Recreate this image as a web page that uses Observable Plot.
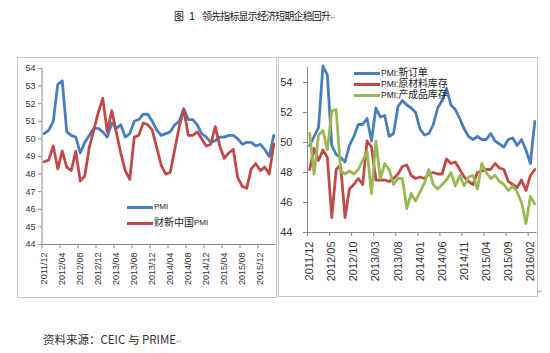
<!DOCTYPE html>
<html><head><meta charset="utf-8">
<script src="https://cdn.jsdelivr.net/npm/d3@7"></script>
<script src="https://cdn.jsdelivr.net/npm/@observablehq/plot@0.6"></script>
<style>
html,body{margin:0;padding:0;background:#fff;}
#page{position:relative;width:550px;height:353px;overflow:hidden;font-family:"Liberation Sans",Arial,sans-serif;color:#333;}
.abs{position:absolute;white-space:nowrap;}
.box{position:absolute;border:1px solid #c8c8c8;box-sizing:border-box;}
.cjk{font-family:"Noto Sans CJK SC",sans-serif;}
.lg{position:absolute;height:10px;display:flex;align-items:center;white-space:nowrap;color:#222;line-height:10px;font-family:"Liberation Sans","Noto Sans CJK SC",sans-serif;}
.lg span{line-height:10px;}
.sw{position:absolute;height:3px;width:26px;}
.ret{color:#999;font-size:7px;}
.ttl{font-size:10px;line-height:12px;color:#222;top:9.5px;}
</style>
</head><body>
<div id="page">
  <div class="abs cjk ttl" style="left:174px;">图</div>
  <div class="abs ttl" style="left:189px;font-size:11px;">1</div>
  <div class="abs cjk ttl" style="left:202px;letter-spacing:-0.85px;">领先指标显示经济短期企稳回升<span class="ret" style="letter-spacing:0">↵</span></div>
  <div class="box" style="left:17px;top:57px;width:260px;height:241px;"></div>
  <div class="box" style="left:278px;top:57px;width:260px;height:240px;"></div>
  <div id="left" class="abs" style="left:17px;top:57px;"></div>
  <div id="right" class="abs" style="left:278px;top:57px;"></div>
  <div id="legends"></div>
  <div class="abs cjk" style="left:43px;top:332px;font-size:11.5px;line-height:14px;color:#333;">资料来源：CEIC 与 PRIME<span class="ret">↵</span></div>
  <div class="abs ret" style="left:537px;top:288px;">↵</div>
</div>
<script>
// ---- data ----
const months = ["2011/12",
 "2012/01","2012/02","2012/03","2012/04","2012/05","2012/06","2012/07","2012/08","2012/09","2012/10","2012/11","2012/12",
 "2013/01","2013/02","2013/03","2013/04","2013/05","2013/06","2013/07","2013/08","2013/09","2013/10","2013/11","2013/12",
 "2014/01","2014/02","2014/03","2014/04","2014/05","2014/06","2014/07","2014/08","2014/09","2014/10","2014/11","2014/12",
 "2015/01","2015/02","2015/03","2015/04","2015/05","2015/06","2015/07","2015/08","2015/09","2015/10","2015/11","2015/12",
 "2016/01","2016/02","2016/03"];

const pmi = [50.3,
 50.5,51.0,53.1,53.3,50.4,50.2,50.1,49.2,49.8,50.2,50.6,50.6,
 50.4,50.1,50.9,50.6,50.8,50.1,50.3,51.0,51.1,51.4,51.4,51.0,
 50.5,50.2,50.3,50.4,50.8,51.0,51.7,51.1,51.1,50.8,50.3,50.1,
 49.8,49.9,50.1,50.1,50.2,50.2,50.0,49.7,49.8,49.8,49.6,49.7,
 49.4,49.0,50.2];

const caixinPmi = [48.7,
 48.8,49.6,48.3,49.3,48.4,48.2,49.3,47.6,47.9,49.5,50.5,51.5,
 52.3,50.4,51.6,50.4,49.2,48.2,47.7,50.1,50.2,50.9,50.8,50.5,
 49.5,48.5,48.0,48.1,49.4,50.7,51.7,50.2,50.2,50.4,50.0,49.6,
 49.7,50.7,49.6,48.9,49.2,49.4,47.8,47.3,47.2,48.3,48.6,48.2,
 48.4,48.0,49.7];

const newOrders = [49.8,
 50.4,51.0,55.1,54.5,49.8,49.2,49.0,48.7,49.8,50.4,51.2,51.2,
 51.6,50.1,52.3,51.7,51.8,50.4,50.6,52.4,52.8,52.5,52.3,52.0,
 50.9,50.5,50.6,51.2,52.3,52.8,53.6,52.5,52.2,51.6,50.9,50.4,
 50.2,50.4,50.2,50.2,50.6,50.1,49.9,49.7,50.2,50.3,49.8,50.2,
 49.5,48.6,51.4];

const rawMaterialInv = [48.2,
 49.6,48.8,49.5,49.0,45.0,48.2,48.5,45.0,46.9,47.2,47.6,47.2,
 50.1,49.7,47.5,47.5,47.5,47.4,47.6,47.9,48.4,48.5,47.8,47.6,
 47.7,47.6,47.9,48.0,47.9,47.9,48.9,48.6,48.7,48.2,47.7,47.4,
 47.2,48.0,48.1,48.2,48.2,48.6,48.3,48.2,47.4,47.2,47.0,47.5,
 46.8,47.8,48.2];

const finishedGoodsInv = [50.6,
 47.9,50.5,50.8,49.5,52.1,52.2,48.1,47.9,48.1,47.9,48.2,48.8,
 49.4,46.6,50.1,47.6,48.6,48.2,47.2,47.6,47.6,45.6,46.6,46.1,
 46.7,47.3,48.2,47.2,46.9,47.2,47.5,48.0,47.1,47.8,47.1,47.7,
 47.8,46.9,48.6,48.0,47.6,47.8,47.4,47.2,46.8,47.1,46.7,46.0,
 44.6,46.4,45.9];

const leftXTicks = ["2011/12","2012/04","2012/08","2012/12","2013/04","2013/08","2013/12","2014/04","2014/08","2014/12","2015/04","2015/08","2015/12"];
const rightXTicks = ["2011/12","2012/05","2012/10","2013/03","2013/08","2014/01","2014/06","2014/11","2015/04","2015/09","2016/02"];
const leftYTicks = [44,45,46,47,48,49,50,51,52,53,54];
const rightYTicks = [44,46,48,50,52,54];

const leftSeries = [
  {name: "PMI", values: pmi, color: "#4A7EBB"},
  {name: "财新中国PMI", values: caixinPmi, color: "#BE4B48"}
];
const rightSeries = [
  {name: "PMI:新订单", values: newOrders, color: "#4A7EBB"},
  {name: "PMI:原材料库存", values: rawMaterialInv, color: "#BE4B48"},
  {name: "PMI:产成品库存", values: finishedGoodsInv, color: "#98B954"}
];

// ---- build ----
const rowsOf = s => months.map((m, i) => ({i, month: m, v: s.values[i], name: s.name}));
const axisGray = "#8a8a8a";
const textCol = "#333";

function chart(series, o) {
  const lblIdx = o.xTicks.map(t => months.indexOf(t));
  return Plot.plot({
    width: 259, height: 240,
    marginLeft: o.ml, marginRight: o.mr, marginTop: o.mt, marginBottom: o.mb,
    style: {fontFamily: "'Liberation Sans', Arial, sans-serif", fontSize: o.fs + "px", background: "transparent", overflow: "visible"},
    x: {type: "linear", domain: [-0.5, months.length - 0.5], axis: null},
    y: {domain: o.yDomain, axis: null},
    marks: [
      Plot.ruleX([-0.5], {stroke: axisGray}),
      Plot.ruleY([o.yDomain[0]], {stroke: axisGray}),
      Plot.axisY({ticks: o.yTicks, tickSize: o.ytick, tickPadding: o.ypad, stroke: axisGray, fill: textCol, label: null, fontSize: o.fs}),
      Plot.axisX({ticks: lblIdx.map(i => i - 0.5), tickSize: 4, tickFormat: () => "", stroke: axisGray, label: null}),
      Plot.axisX({ticks: lblIdx, tickSize: 0, tickPadding: o.xpad, tickRotate: -90, tickFormat: i => months[i], fill: textCol, label: null, fontSize: o.fs}),
      ...series.map(s => Plot.line(rowsOf(s), {x: "i", y: "v", stroke: s.color, strokeWidth: 2.8, strokeLinejoin: "round", strokeLinecap: "round"}))
    ]
  });
}

document.getElementById("left").append(chart(leftSeries, {
  ml: 24.5, mr: 0.5, mt: 11, mb: 53, fs: 9, yDomain: [44, 54], yTicks: leftYTicks,
  ytick: 3.5, ypad: 3, xpad: 8, xTicks: leftXTicks
}));
document.getElementById("right").append(chart(rightSeries, {
  ml: 29, mr: 0.5, mt: 10, mb: 65, fs: 11, yDomain: [44, 55], yTicks: rightYTicks,
  ytick: 4, ypad: 11, xpad: 9, xTicks: rightXTicks
}));

// ---- legends (HTML overlays) ----
const lg = document.getElementById("legends");
function legendItem(s, x, cy, latinSize, cjkSize) {
  const sw = document.createElement("div");
  sw.className = "sw";
  sw.style.left = x + "px"; sw.style.top = (cy - 1.5) + "px"; sw.style.background = s.color;
  lg.append(sw);
  const t = document.createElement("div");
  t.className = "lg";
  t.style.left = (x + 27) + "px"; t.style.top = (cy - 5) + "px";
  const runs = s.name.match(/[A-Za-z:]+|[^A-Za-z:]+/g);
  for (const r of runs) {
    const sp = document.createElement("span");
    sp.textContent = r;
    sp.style.fontSize = (/[A-Za-z:]/.test(r) ? latinSize : cjkSize) + "px";
    t.append(sp);
  }
  lg.append(t);
}
legendItem(leftSeries[0], 127, 207, 8, 10);
legendItem(leftSeries[1], 127, 223, 8, 10);
legendItem(rightSeries[0], 354, 73, 8.5, 9.8);
legendItem(rightSeries[1], 354, 84, 8.5, 9.8);
legendItem(rightSeries[2], 354, 95, 8.5, 9.8);
</script>
</body></html>
